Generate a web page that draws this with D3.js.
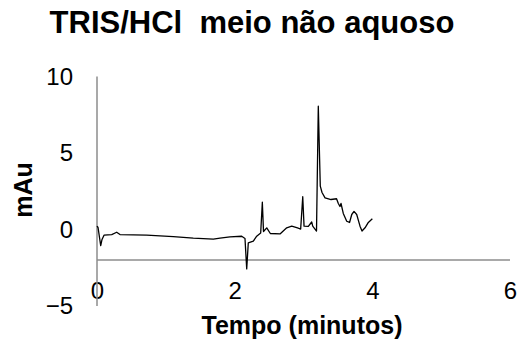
<!DOCTYPE html>
<html>
<head>
<meta charset="utf-8">
<script src="https://cdn.jsdelivr.net/npm/d3@7"></script>
<style>
  html, body { margin: 0; padding: 0; background: #fff; }
  svg { display: block; font-family: "Liberation Sans", Arial, sans-serif; }
</style>
</head>
<body>
<svg id="chart" width="520" height="342"></svg>
<script>
// Chromatogram: time in minutes, signal in mAu
const tempo = [0.000, 0.015, 0.054, 0.073, 0.102, 0.214, 0.286, 0.334, 0.722, 1.109,
  1.399, 1.690, 1.787, 1.932, 2.102, 2.150, 2.175, 2.198, 2.271, 2.320,
  2.378, 2.402, 2.419, 2.466, 2.518, 2.659, 2.756, 2.829, 2.913, 2.959,
  2.989, 3.008, 3.070, 3.119, 3.134, 3.189, 3.215, 3.244, 3.269, 3.313,
  3.400, 3.480, 3.506, 3.530, 3.545, 3.578, 3.628, 3.669, 3.701, 3.734,
  3.773, 3.821, 3.850, 3.894, 3.942, 4.000];
const sinal = [0.22, 0.13, -1.05, -0.65, -0.37, -0.33, -0.18, -0.33, -0.37, -0.46,
  -0.57, -0.63, -0.57, -0.48, -0.44, -0.59, -2.58, -0.87, -0.76, -0.44,
  -0.23, 1.78, -0.13, 0.11, -0.26, -0.29, 0.11, 0.22, 0.10, 0.03,
  2.14, 0.22, 0.20, 0.49, 0.22, -0.10, 8.06, 2.83, 2.42, 2.07,
  1.96, 2.01, 1.70, 1.50, 1.70, 1.05, 0.54, 0.46, 0.98, 1.18,
  0.98, 0.22, -0.10, 0.11, 0.46, 0.70];

const xTicks = [0, 2, 4, 6];
const yTicks = [-5, 0, 5, 10];
const xCross = -2; // value where the time axis crosses the mAu axis

const svg = d3.select("#chart");
const x = d3.scaleLinear().domain([0, 6]).range([97, 510]);
const y = d3.scaleLinear().domain([-5, 10]).range([306, 76.5]);
const axisColor = "#8c8c8c";

// Title (keeps its double space)
svg.append("text")
  .attr("x", 252).attr("y", 33)
  .attr("text-anchor", "middle")
  .attr("font-size", 31).attr("font-weight", "bold")
  .attr("fill", "#000")
  .style("white-space", "pre")
  .attr("xml:space", "preserve")
  .text("TRIS/HCl  meio não aquoso");

// Y axis (labels only, line drawn separately)
const yAxis = svg.append("g")
  .attr("transform", `translate(${x(0)},0)`)
  .call(d3.axisLeft(y).tickValues(yTicks).tickSize(0).tickPadding(24).tickFormat(d3.format("d")));
yAxis.select(".domain").remove();
yAxis.selectAll("text").attr("font-size", 24).attr("fill", "#000")
  .attr("font-family", "'Liberation Sans', Arial, sans-serif");

// X axis (labels only)
const xAxis = svg.append("g")
  .attr("transform", `translate(0,${y(xCross)})`)
  .call(d3.axisBottom(x).tickValues(xTicks).tickSize(0).tickPadding(22).tickFormat(d3.format("d")));
xAxis.select(".domain").remove();
xAxis.selectAll("text").attr("font-size", 24).attr("fill", "#000")
  .attr("font-family", "'Liberation Sans', Arial, sans-serif");

// Axis lines
svg.append("line")
  .attr("x1", x(0)).attr("x2", x(0))
  .attr("y1", y(-5)).attr("y2", y(10))
  .attr("stroke", axisColor).attr("stroke-width", 1.5);
svg.append("line")
  .attr("x1", x(0)).attr("x2", x(6))
  .attr("y1", y(xCross)).attr("y2", y(xCross))
  .attr("stroke", axisColor).attr("stroke-width", 1.5);

// Signal trace
const pts = tempo.map((t, i) => [t, sinal[i]]);
svg.append("path")
  .datum(pts)
  .attr("fill", "none")
  .attr("stroke", "#000")
  .attr("stroke-width", 1.3)
  .attr("stroke-linejoin", "round")
  .attr("d", d3.line().x(d => x(d[0])).y(d => y(d[1])));

// Axis titles
svg.append("text")
  .attr("x", 302).attr("y", 334)
  .attr("text-anchor", "middle")
  .attr("font-size", 25).attr("font-weight", "bold")
  .attr("fill", "#000")
  .text("Tempo (minutos)");

svg.append("text")
  .attr("transform", "translate(32,190) rotate(-90)")
  .attr("text-anchor", "middle")
  .attr("font-size", 25).attr("font-weight", "bold")
  .attr("fill", "#000")
  .text("mAu");
</script>
</body>
</html>
